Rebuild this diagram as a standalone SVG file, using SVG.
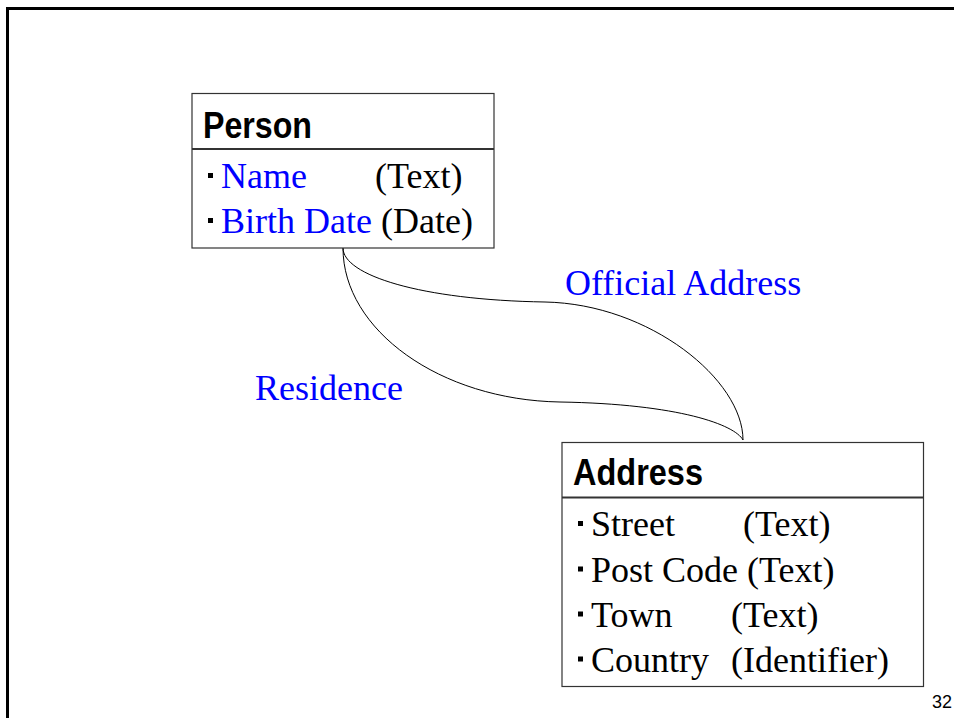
<svg xmlns="http://www.w3.org/2000/svg" width="954" height="718" viewBox="0 0 954 718">
<style>
.box{fill:#fff;stroke:#333;stroke-width:1.2}
.div{stroke:#333;stroke-width:2}
.title{font-family:"Liberation Sans",Arial,sans-serif;font-weight:bold;font-size:37px;fill:#000}
.attr{font-family:"Liberation Serif","Times New Roman",serif;font-size:36px;fill:#000}
.blue{fill:#0000ff}
.bul{fill:#000}
.conn{fill:none;stroke:#000;stroke-width:1}
.lbl{font-family:"Liberation Serif","Times New Roman",serif;font-size:36px;fill:#0000ff}
.pg{font-family:"Liberation Sans",Arial,sans-serif;font-size:18px;fill:#000}
</style>
<rect x="0" y="0" width="954" height="718" fill="#fff"/>
<rect x="7.5" y="8.5" width="1000" height="800" fill="none" stroke="#000" stroke-width="3"/>
<g id="connectors">
<path class="conn" d="M343,248 C343,275 420,300 545,302 C650,304 743,380 743,440"/>
<path class="conn" d="M343,248 C343,330 440,400 560,402 C680,404 735,425 743,440"/>
</g>
<g id="labels">
<text class="lbl" x="565" y="295">Official Address</text>
<text class="lbl" x="255" y="400">Residence</text>
</g>
<g id="person">
<rect class="box" x="192" y="93.5" width="302" height="154.5"/>
<line class="div" x1="192" y1="149" x2="494" y2="149"/>
<text class="title" x="203" y="138" textLength="109" lengthAdjust="spacingAndGlyphs">Person</text>
<rect class="bul" x="208" y="173" width="5" height="5"/>
<text class="attr" x="221" y="188"><tspan class="blue">Name</tspan></text>
<text class="attr" x="375" y="188">(Text)</text>
<rect class="bul" x="208" y="218" width="5" height="5"/>
<text class="attr" x="221" y="233"><tspan class="blue">Birth Date</tspan> (Date)</text>
</g>
<g id="address">
<rect class="box" x="562" y="442.5" width="361.5" height="244"/>
<line class="div" x1="562" y1="497.5" x2="923.5" y2="497.5"/>
<text class="title" x="573" y="485" textLength="130" lengthAdjust="spacingAndGlyphs">Address</text>
<rect class="bul" x="578" y="521" width="5" height="5"/>
<text class="attr" x="591" y="536">Street</text>
<text class="attr" x="743" y="536">(Text)</text>
<rect class="bul" x="578" y="566.5" width="5" height="5"/>
<text class="attr" x="591" y="581.5">Post Code (Text)</text>
<rect class="bul" x="578" y="611.5" width="5" height="5"/>
<text class="attr" x="591" y="626.5">Town</text>
<text class="attr" x="731" y="626.5">(Text)</text>
<rect class="bul" x="578" y="656.5" width="5" height="5"/>
<text class="attr" x="591" y="671.5">Country</text>
<text class="attr" x="731" y="671.5">(Identifier)</text>
</g>
<text class="pg" x="932" y="708">32</text>
</svg>
